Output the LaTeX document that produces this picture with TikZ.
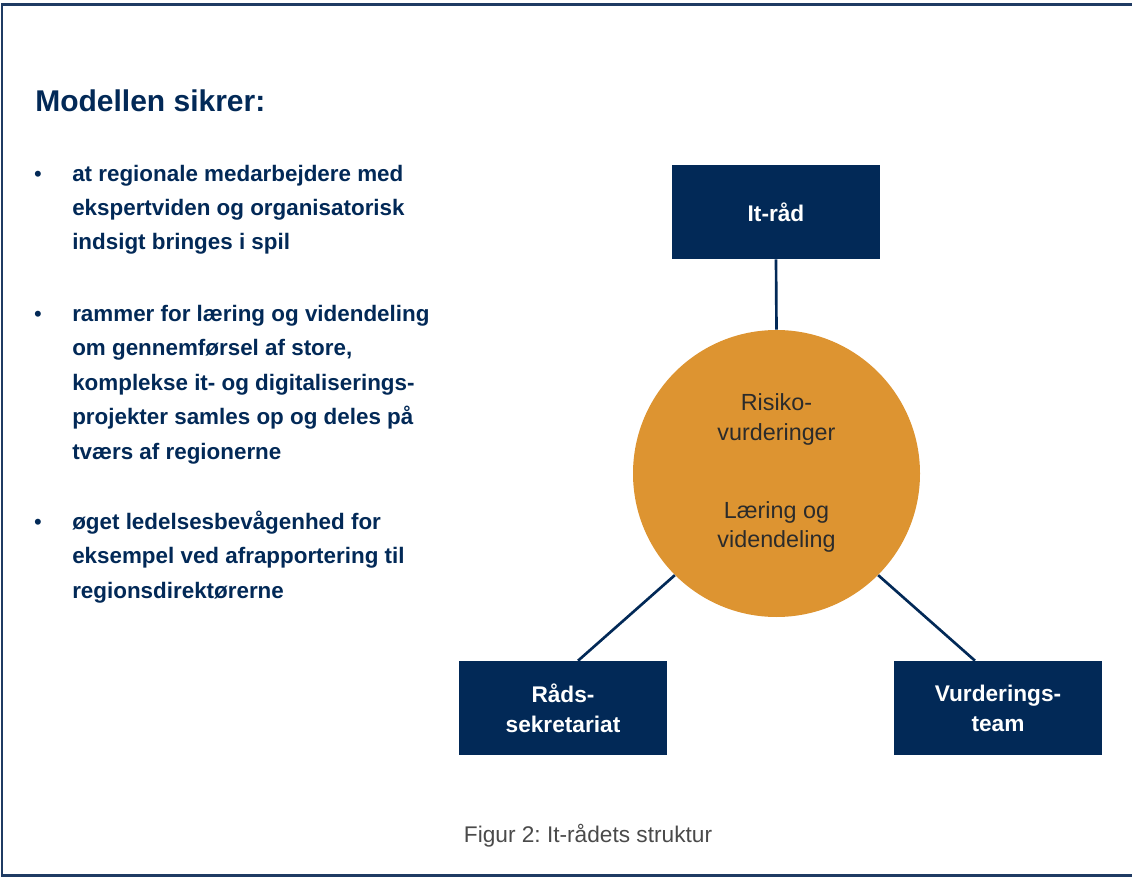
\documentclass[tikz,border=0pt]{standalone}
\usepackage{fontspec}
\setmainfont{Liberation Sans}
\frenchspacing
\definecolor{navy}{HTML}{022957}
\definecolor{orangec}{HTML}{DD9431}
\definecolor{framec}{HTML}{1F3B63}
\definecolor{capgray}{HTML}{4A4A4A}
\definecolor{circtext}{HTML}{2B2B2B}
\begin{document}
\begin{tikzpicture}[x=0.75pt,y=-0.75pt,
  bluebox/.style={fill=navy, draw=none, minimum width=156pt, minimum height=70.5pt, inner sep=0pt,
    text=white, align=center, font=\bfseries\fontsize{17}{22.5}\selectfont},
  bullettext/.style={anchor=base west, inner sep=0pt, align=left, text=navy,
    font=\bfseries\fontsize{16.8}{25.8}\selectfont},
  bulletdot/.style={anchor=base, inner sep=0pt, text=navy, font=\fontsize{16.5}{25.8}\selectfont},
  circtxt/.style={anchor=base, inner sep=0pt, text=circtext, font=\fontsize{17.5}{22}\selectfont},
  conn/.style={draw=navy, line width=2pt}]
\useasboundingbox (0,0) rectangle (1132,877);
\draw[framec, line width=1.8pt] (2,4.5) rectangle (1150,875.5);

\node[anchor=base west, inner sep=0pt, text=navy, font=\bfseries\fontsize{22.5}{27}\selectfont] (title) at (35,112) {Modellen sikrer:};

% multi-line nodes: base anchor = baseline of the last line
\node[bulletdot] (d1) at (38,182) {•};
\node[bullettext] (b1) at (72,250) {at regionale medarbejdere med\\ekspertviden og organisatorisk\\indsigt bringes i spil};
\node[bulletdot] (d2) at (38,322) {•};
\node[bullettext] (b2) at (72,459) {rammer for læring og videndeling\\om gennemførsel af store,\\komplekse it- og digitaliserings-\\projekter samles op og deles på\\tværs af regionerne};
\node[bulletdot] (d3) at (38,529) {•};
\node[bullettext] (b3) at (72,598) {øget ledelsesbevågenhed for\\eksempel ved afrapportering til\\regionsdirektørerne};

\node[circle, fill=orangec, draw=none, minimum size=215.25pt, inner sep=0pt] (circ) at (776.5,473.5) {};
\node[circtxt] (t1) at (776.5,411) {Risiko-};
\node[circtxt] (t2) at (776.5,440) {vurderinger};
\node[circtxt] (t3) at (776.5,518) {Læring og};
\node[circtxt] (t4) at (776.5,547) {videndeling};

\node[bluebox] (itraad) at (776,212) {It-råd};
\node[bluebox] (rads) at (563,708) {Råds-\\sekretariat};
\node[bluebox] (vur) at (998,708) {Vurderings-\\team};

\draw[conn] (itraad.south) -- (circ.north);
\draw[conn] (circ.225) -- ([xshift=11.25pt]rads.north);
\draw[conn] (circ.-45) -- ([xshift=-17.25pt]vur.north);

\node[anchor=base, inner sep=0pt, text=capgray, font=\fontsize{17}{20}\selectfont] (cap) at (588,842) {Figur 2: It-rådets struktur};
\end{tikzpicture}
\end{document}
